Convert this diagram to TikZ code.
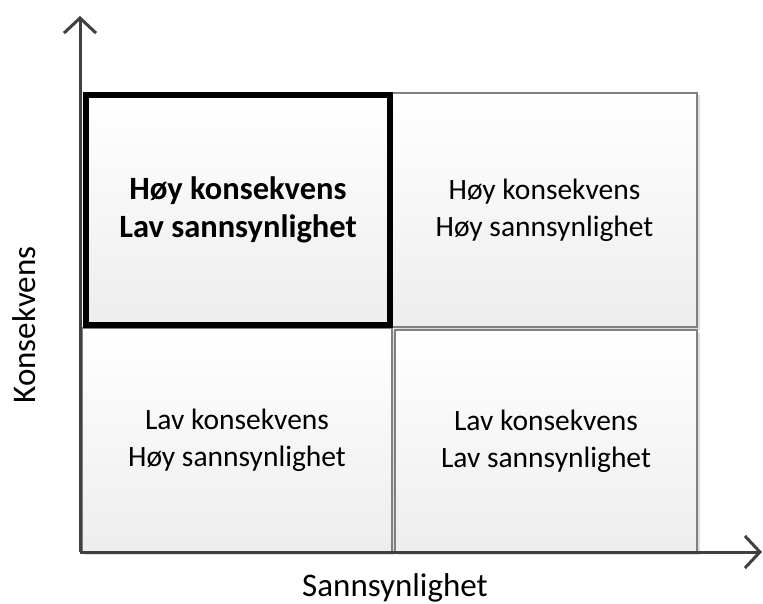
\documentclass[tikz,border=0pt]{standalone}
\usepackage{fontspec}
\setmainfont{Carlito}
\usetikzlibrary{arrows.meta,shadows}
\begin{document}
\begin{tikzpicture}[x=1pt,y=-1pt,
  cell/.style={draw=black!50, line width=1.2pt, inner sep=0pt, outer sep=0pt,
    anchor=north west, align=center, top color=white, bottom color=black!7,
    font=\fontsize{29.5}{37}\selectfont,
    drop shadow={shadow xshift=2.5pt, shadow yshift=-2.5pt, fill=black!13, opacity=1}},
  focus/.style={cell, draw=black, line width=6pt, font=\bfseries\fontsize{32.5}{38}\selectfont},
  axis/.style={draw=black!75, line width=3pt,
    -{Straight Barb[length=15pt, width=32pt, line width=3pt]}},
  axislabel/.style={font=\fontsize{33}{40}\selectfont}]
  \useasboundingbox (0,0) rectangle (763,604);

  % four quadrants
  \node[cell, minimum width=305pt, minimum height=234pt] (hh) at (392,93)
    {Høy konsekvens\\Høy sannsynlighet};
  \node[cell, minimum width=310pt, minimum height=224pt] (lh) at (82,328)
    {Lav konsekvens\\Høy sannsynlighet};
  \node[cell, minimum width=302pt, minimum height=222pt] (ll) at (395,330)
    {Lav konsekvens\\Lav sannsynlighet};
  \node[focus, minimum width=304pt, minimum height=230pt] (hl) at (86,95)
    {Høy konsekvens\\Lav sannsynlighet};

  % axes
  \coordinate (origin) at (80,552);
  \coordinate (ytip) at (80,16);
  \coordinate (xtip) at (762,552);
  \draw[axis] (origin) -- (ytip);
  \draw[axis] (origin) -- (xtip);

  \node[axislabel, rotate=90] (ylab) at (24,325) {Konsekvens};
  \node[axislabel] (xlab) at (395,588) {Sannsynlighet};
\end{tikzpicture}
\end{document}
